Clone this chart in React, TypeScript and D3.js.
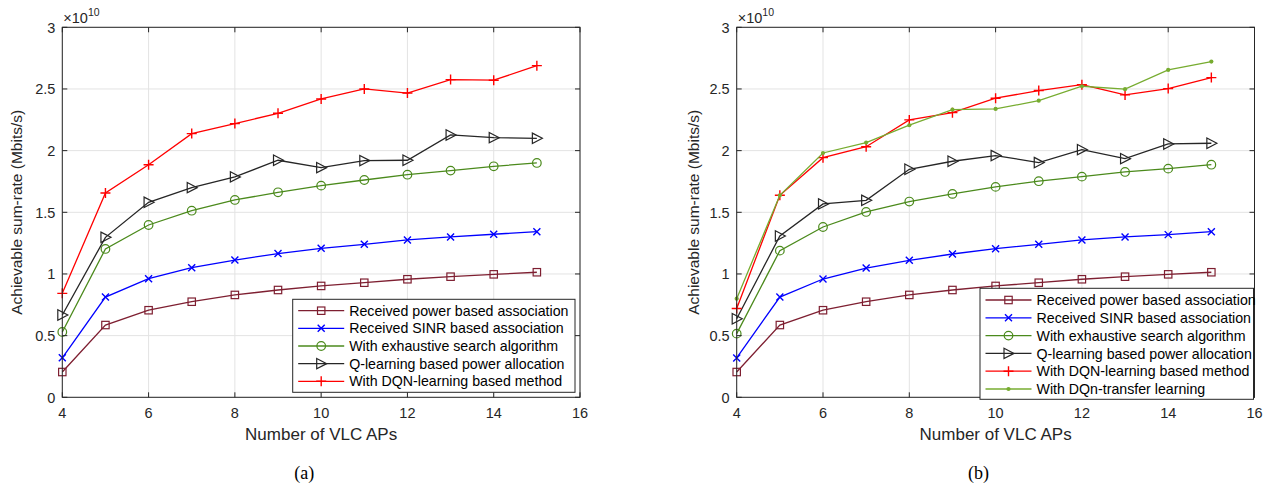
import React from "react";
import * as d3 from "d3";

const apCounts = [4, 5, 6, 7, 8, 9, 10, 11, 12, 13, 14, 15];
const xTicks = [4, 6, 8, 10, 12, 14, 16];
const yTicks = [0, 0.5, 1, 1.5, 2, 2.5, 3];
const yTickLabels = ["0", "0.5", "1", "1.5", "2", "2.5", "3"];

// panel (a), values in units of 1e10
const aPower = [0.205, 0.586, 0.706, 0.775, 0.83, 0.87, 0.903, 0.929, 0.957, 0.978, 0.997, 1.014];
const aSinr = [0.32, 0.813, 0.962, 1.051, 1.113, 1.165, 1.208, 1.24, 1.276, 1.3, 1.322, 1.343];
const aExhaustive = [0.53, 1.203, 1.397, 1.513, 1.6, 1.662, 1.716, 1.762, 1.805, 1.838, 1.873, 1.9];
const aQlearning = [0.667, 1.297, 1.581, 1.7, 1.787, 1.922, 1.862, 1.919, 1.922, 2.127, 2.105, 2.1];
const aDqn = [0.843, 1.657, 1.886, 2.138, 2.219, 2.303, 2.419, 2.5, 2.467, 2.576, 2.571, 2.689];

// panel (b)
const bPower = [0.205, 0.586, 0.706, 0.775, 0.83, 0.87, 0.903, 0.929, 0.957, 0.978, 0.997, 1.014];
const bSinr = [0.319, 0.813, 0.959, 1.048, 1.111, 1.162, 1.205, 1.24, 1.276, 1.3, 1.319, 1.343];
const bExhaustive = [0.516, 1.189, 1.381, 1.503, 1.587, 1.649, 1.706, 1.752, 1.789, 1.827, 1.854, 1.886];
const bQlearning = [0.637, 1.308, 1.568, 1.597, 1.849, 1.914, 1.96, 1.903, 2.008, 1.935, 2.054, 2.06];
const bDqn = [0.72, 1.638, 1.943, 2.032, 2.249, 2.308, 2.425, 2.487, 2.535, 2.452, 2.503, 2.592];
const bTransfer = [0.8, 1.638, 1.981, 2.065, 2.206, 2.332, 2.338, 2.405, 2.522, 2.498, 2.654, 2.722];

const labelPower = "Received power based association";
const labelSinr = "Received SINR based association";
const labelExhaustive = "With exhaustive search algorithm";
const labelQ = "Q-learning based power allocation";
const labelDqn = "With DQN-learning based method";
const labelTransfer = "With DQn-transfer learning";

type MarkerKind = "square" | "x" | "circle" | "tri" | "plus" | "dot";
type Series = { label: string; values: number[]; color: string; marker: MarkerKind };

const C_POWER = "#7e1f31";
const C_SINR = "#0000ff";
const C_EXH = "#4b8a1c";
const C_Q = "#262626";
const C_DQN = "#ff0000";
const C_TR = "#77ac30";

const seriesA: Series[] = [
  { label: labelPower, values: aPower, color: C_POWER, marker: "square" },
  { label: labelSinr, values: aSinr, color: C_SINR, marker: "x" },
  { label: labelExhaustive, values: aExhaustive, color: C_EXH, marker: "circle" },
  { label: labelQ, values: aQlearning, color: C_Q, marker: "tri" },
  { label: labelDqn, values: aDqn, color: C_DQN, marker: "plus" },
];
const seriesB: Series[] = [
  { label: labelPower, values: bPower, color: C_POWER, marker: "square" },
  { label: labelSinr, values: bSinr, color: C_SINR, marker: "x" },
  { label: labelExhaustive, values: bExhaustive, color: C_EXH, marker: "circle" },
  { label: labelQ, values: bQlearning, color: C_Q, marker: "tri" },
  { label: labelDqn, values: bDqn, color: C_DQN, marker: "plus" },
  { label: labelTransfer, values: bTransfer, color: C_TR, marker: "dot" },
];

const FONT = "'Liberation Sans', Arial, Helvetica, sans-serif";

function Marker({ kind, x, y, color }: { kind: MarkerKind; x: number; y: number; color: string }) {
  const sw = 1.2;
  switch (kind) {
    case "square":
      return <rect x={x - 3.7} y={y - 3.7} width={7.4} height={7.4} fill="none" stroke={color} strokeWidth={sw} />;
    case "x":
      return (
        <path d={`M${x - 3.5},${y - 3.5}L${x + 3.5},${y + 3.5}M${x - 3.5},${y + 3.5}L${x + 3.5},${y - 3.5}`} stroke={color} strokeWidth={1.4} fill="none" />
      );
    case "circle":
      return <circle cx={x} cy={y} r={4.3} fill="none" stroke={color} strokeWidth={sw} />;
    case "tri":
      return <path d={`M${x - 4.5},${y - 5.2}L${x + 5.5},${y}L${x - 4.5},${y + 5.2}Z`} fill="none" stroke={color} strokeWidth={sw} />;
    case "plus":
      return <path d={`M${x - 5},${y}L${x + 5},${y}M${x},${y - 5}L${x},${y + 5}`} stroke={color} strokeWidth={1.4} fill="none" />;
    case "dot":
      return <circle cx={x} cy={y} r={2.1} fill={color} stroke="none" />;
  }
}

type PanelProps = {
  left: number;
  right: number;
  series: Series[];
  legend: { x0: number; x1: number; y0: number; y1: number; row0: number; rowStep: number };
  caption: string;
  yLabelOffset: number;
};

function Panel({ left, right, series, legend, caption, yLabelOffset }: PanelProps) {
  const top = 27.3;
  const bottom = 397.3;
  const x = d3.scaleLinear().domain([4, 16]).range([left, right]);
  const y = d3.scaleLinear().domain([0, 3]).range([bottom, top]);
  const line = d3
    .line<number>()
    .x((_, i) => x(apCounts[i]))
    .y((v) => y(v));
  const tickLen = 5;
  const axisColor = "#262626";
  const cx = (left + right) / 2;
  return (
    <g fontFamily={FONT}>
      {xTicks.map((t) => (
        <line key={"gx" + t} x1={x(t)} x2={x(t)} y1={top} y2={bottom} stroke="#e3e3e3" strokeWidth={1} />
      ))}
      {yTicks.map((t) => (
        <line key={"gy" + t} x1={left} x2={right} y1={y(t)} y2={y(t)} stroke="#e3e3e3" strokeWidth={1} />
      ))}
      {series.map((s) => (
        <g key={s.label}>
          <path d={line(s.values) || ""} fill="none" stroke={s.color} strokeWidth={1.3} />
          {s.values.map((v, i) => (
            <Marker key={i} kind={s.marker} x={x(apCounts[i])} y={y(v)} color={s.color} />
          ))}
        </g>
      ))}
      <rect x={left} y={top} width={right - left} height={bottom - top} fill="none" stroke={axisColor} strokeWidth={1} />
      {xTicks.map((t) => (
        <g key={"tx" + t}>
          <line x1={x(t)} x2={x(t)} y1={bottom} y2={bottom - tickLen} stroke={axisColor} />
          <line x1={x(t)} x2={x(t)} y1={top} y2={top + tickLen} stroke={axisColor} />
          <text x={x(t)} y={418} textAnchor="middle" fontSize={14.5} fill="#262626">
            {t}
          </text>
        </g>
      ))}
      {yTicks.map((t, i) => (
        <g key={"ty" + t}>
          <line x1={left} x2={left + tickLen} y1={y(t)} y2={y(t)} stroke={axisColor} />
          <line x1={right} x2={right - tickLen} y1={y(t)} y2={y(t)} stroke={axisColor} />
          <text x={left - 7} y={y(t)} dy="0.36em" textAnchor="end" fontSize={14.5} fill="#262626">
            {yTickLabels[i]}
          </text>
        </g>
      ))}
      <text x={left + 1} y={23} fontSize={14.5} fill="#262626">
        <tspan>×10</tspan>
        <tspan fontSize={10.5} dy={-7}>10</tspan>
      </text>
      <text x={cx} y={440} textAnchor="middle" fontSize={17} fill="#262626">
        Number of VLC APs
      </text>
      <text
        transform={`translate(${left - yLabelOffset},${(top + bottom) / 2}) rotate(-90)`}
        textAnchor="middle"
        fontSize={15.5}
        fill="#262626"
      >
        Achievable sum-rate (Mbits/s)
      </text>
      <text x={cx - 17} y={479} textAnchor="middle" fontSize={18} fontFamily="'Liberation Serif', 'Times New Roman', serif" fill="#000">
        {caption}
      </text>
      <rect x={legend.x0} y={legend.y0} width={legend.x1 - legend.x0} height={legend.y1 - legend.y0} fill="#fff" stroke={axisColor} strokeWidth={1} />
      {series.map((s, i) => {
        const ry = legend.row0 + i * legend.rowStep;
        const lx0 = legend.x0 + 5.5;
        const lx1 = lx0 + 46;
        return (
          <g key={"lg" + i}>
            <line x1={lx0} x2={lx1} y1={ry} y2={ry} stroke={s.color} strokeWidth={1.3} />
            <Marker kind={s.marker} x={(lx0 + lx1) / 2} y={ry} color={s.color} />
            <text x={lx1 + 5} y={ry} dy="0.36em" fontSize={14.2} fill="#000">
              {s.label}
            </text>
          </g>
        );
      })}
    </g>
  );
}

export default function App() {
  return (
    <svg width={1264} height={483} style={{ position: "absolute", left: 0, top: 0, background: "#fff" }}>
      <rect x={0} y={0} width={1264} height={483} fill="#fff" />
      <Panel
        left={62.3}
        right={580}
        series={seriesA}
        legend={{ x0: 292.7, x1: 575, y0: 299.3, y1: 392.3, row0: 310.7, rowStep: 17.65 }}
        caption="(a)"
        yLabelOffset={40}
      />
      <Panel
        left={736.7}
        right={1254.5}
        series={seriesB}
        legend={{ x0: 980, x1: 1253.5, y0: 288.3, y1: 399.3, row0: 300, rowStep: 17.8 }}
        caption="(b)"
        yLabelOffset={38}
      />
    </svg>
  );
}
